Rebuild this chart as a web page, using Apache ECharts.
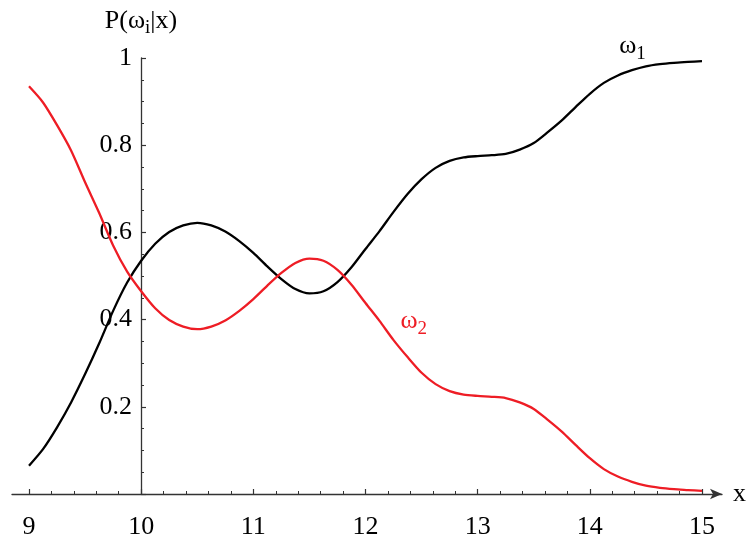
<!DOCTYPE html>
<html>
<head>
<meta charset="utf-8">
<script src="https://cdn.jsdelivr.net/npm/echarts@6/dist/echarts.min.js"></script>
<style>
  html, body { margin: 0; padding: 0; background: #fff; }
  #chart { width: 752px; height: 542px; }
</style>
</head>
<body>
<div id="chart"></div>
<script>
// x samples (step 0.125)
const xs = [
  9.0, 9.125, 9.25, 9.375, 9.5, 9.625, 9.75, 9.875,
  10.0, 10.125, 10.25, 10.375, 10.5, 10.625, 10.75, 10.875,
  11.0, 11.125, 11.25, 11.375, 11.5, 11.625, 11.75, 11.875,
  12.0, 12.125, 12.25, 12.375, 12.5, 12.625, 12.75, 12.875,
  13.0, 13.125, 13.25, 13.375, 13.5, 13.625, 13.75, 13.875,
  14.0, 14.125, 14.25, 14.375, 14.5, 14.625, 14.75, 14.875, 15.0
];
// P(w1|x), black
const omega1 = [
  0.065, 0.103, 0.153, 0.210, 0.275, 0.345, 0.420, 0.485,
  0.535, 0.574, 0.601, 0.616, 0.622, 0.616, 0.602, 0.580,
  0.553, 0.522, 0.493, 0.470, 0.460, 0.465, 0.486, 0.520,
  0.562, 0.603, 0.647, 0.688, 0.722, 0.748, 0.764, 0.772,
  0.775, 0.777, 0.780, 0.790, 0.805, 0.830, 0.857, 0.888,
  0.918, 0.943, 0.960, 0.972, 0.981, 0.986, 0.989, 0.991, 0.993
];
// P(w2|x), red
const omega2 = [
  0.935, 0.898, 0.846, 0.788, 0.715, 0.645, 0.570, 0.510,
  0.465, 0.426, 0.399, 0.384, 0.378, 0.384, 0.398, 0.420,
  0.447, 0.478, 0.507, 0.530, 0.540, 0.535, 0.514, 0.480,
  0.438, 0.397, 0.353, 0.314, 0.278, 0.252, 0.236, 0.228,
  0.225, 0.223, 0.220, 0.210, 0.195, 0.170, 0.143, 0.112,
  0.082, 0.057, 0.040, 0.028, 0.019, 0.014, 0.011, 0.009, 0.007
];
const xTicks = [9, 15, 1];     // min, max, interval
const yTicks = [0, 1, 0.2];

const FONT = "'Liberation Serif', 'Times New Roman', serif";
const AXIS = "#333";
const RED = "#ee1d25";
const FS = 26;   // main text size
const SUB = 19;  // subscript size

const chart = echarts.init(document.getElementById("chart"), null, { renderer: "canvas" });

const pairs = (ys) => xs.map((x, i) => [x, ys[i]]);

const richStyle = (color) => ({
  m: { fontSize: FS, fontFamily: FONT, color: color, lineHeight: 30, verticalAlign: "top" },
  s: { fontSize: SUB, fontFamily: FONT, color: color, lineHeight: SUB, verticalAlign: "bottom" }
});

const option = {
  animation: false,
  backgroundColor: "#fff",
  grid: [
    // data + x ticks
    { left: 29, top: 58, width: 673, height: 436 },
    // long x axis line with arrow
    { left: 12, top: 58, width: 710, height: 436 },
    // y axis placed at x = 10
    { left: 141, top: 58, width: 10, height: 436 }
  ],
  xAxis: [
    {
      gridIndex: 0, type: "value",
      min: xTicks[0], max: xTicks[1], interval: xTicks[2],
      axisLine: { show: false },
      axisTick: { show: true, inside: true, length: 5, lineStyle: { color: AXIS, width: 1.2 } },
      minorTick: { show: true, splitNumber: 5, length: 3, lineStyle: { color: AXIS, width: 1 } },
      splitLine: { show: false },
      axisLabel: { margin: 20, color: "#000", fontSize: FS, fontFamily: FONT }
    },
    {
      gridIndex: 1, type: "value", min: 0, max: 1,
      axisLine: {
        show: true, onZero: false,
        symbol: ["none", "arrow"], symbolSize: [8, 12],
        lineStyle: { color: AXIS, width: 1.3 }
      },
      axisTick: { show: false },
      axisLabel: { show: false },
      splitLine: { show: false },
      name: "x", nameLocation: "end", nameGap: 11,
      nameTextStyle: { color: "#000", fontSize: FS, fontFamily: FONT, verticalAlign: "middle", padding: [4, 0, 0, 0] }
    },
    {
      gridIndex: 2, type: "value", min: 0, max: 1, show: false
    }
  ],
  yAxis: [
    { gridIndex: 0, type: "value", min: yTicks[0], max: yTicks[1], show: false },
    { gridIndex: 1, type: "value", min: 0, max: 1, show: false },
    {
      gridIndex: 2, type: "value",
      min: yTicks[0], max: yTicks[1], interval: yTicks[2],
      axisLine: { show: true, onZero: false, lineStyle: { color: AXIS, width: 1.3 } },
      axisTick: { show: true, inside: true, length: 5, lineStyle: { color: AXIS, width: 1.2 } },
      minorTick: { show: true, splitNumber: 4, length: 3, lineStyle: { color: AXIS, width: 1 } },
      splitLine: { show: false },
      axisLabel: {
        showMinLabel: false, margin: 9, color: "#000", fontSize: FS, fontFamily: FONT
      },
      name: "{m|P(ω}{s|i}{m||x)}",
      nameLocation: "end",
      nameGap: 20,
      nameTextStyle: { rich: richStyle("#000") }
    }
  ],
  series: [
    {
      name: "ω1", type: "line", xAxisIndex: 0, yAxisIndex: 0,
      data: pairs(omega1), showSymbol: false, smooth: 0.25,
      lineStyle: { color: "#000", width: 2.3 }, itemStyle: { color: "#000" }
    },
    {
      name: "ω2", type: "line", xAxisIndex: 0, yAxisIndex: 0,
      data: pairs(omega2), showSymbol: false, smooth: 0.25,
      lineStyle: { color: RED, width: 2.3 }, itemStyle: { color: RED }
    }
  ]
};
chart.setOption(option);

// curve labels anchored in data coordinates
const labels = [
  { at: [14.38, 1.022], idx: "1", color: "#000" },
  { at: [12.43, 0.392], idx: "2", color: RED }
];
chart.setOption({
  graphic: labels.map((l) => {
    const p = chart.convertToPixel({ gridIndex: 0 }, l.at);
    const rich = richStyle(l.color);
    rich.m.fill = l.color;
    rich.s.fill = l.color;
    return {
      type: "text", x: p[0], y: p[1],
      style: {
        text: "{m|ω}{s|" + l.idx + "}",
        align: "center", verticalAlign: "middle",
        rich: rich
      }
    };
  })
});
</script>
</body>
</html>
